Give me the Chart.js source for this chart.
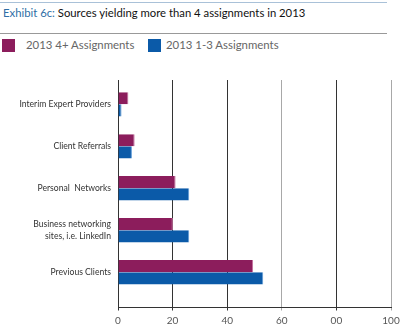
<!DOCTYPE html>
<html>
<head>
<meta charset="utf-8">
<script src="https://cdn.jsdelivr.net/npm/chart.js@4"></script>
<style>
    body { margin: 0; background: #fff; font-family: Lato, sans-serif; }
    #wrap { position: relative; width: 400px; height: 330px; }
    .rule { position: absolute; left: 0; width: 387px; height: 1px; }
    #title { position: absolute; left: 3px; top: 6px; font-size: 11.3px; color: #111; white-space: nowrap; }
    #title span { color: #2e6ea6; }
    .swatch { position: absolute; top: 39px; width: 13px; height: 13px; }
    .legtext { position: absolute; top: 38px; font-size: 11.4px; color: #666; white-space: nowrap; }
    canvas { position: absolute; left: 0; top: 0; }
</style>
</head>
<body>
<div id="wrap">
    <div class="rule" style="top:2px;background:#a9c1d8"></div>
    <div id="title"><span>Exhibit 6c:</span> Sources yielding more than 4 assignments in 2013</div>
    <div class="rule" style="top:33px;background:#999"></div>
    <div class="swatch" style="left:2px;background:#8c1d5c"></div>
    <div class="legtext" style="left:26px">2013 4+ Assignments</div>
    <div class="swatch" style="left:148px;background:#0b5aa8"></div>
    <div class="legtext" style="left:166px">2013 1-3 Assignments</div>
    <canvas id="chart" width="400" height="330"></canvas>
</div>
<script>
// Data (percent)
const categories = [
    'Interim Expert Providers',
    'Client Referrals',
    'Personal  Networks',
    ['Business networking', 'sites, i.e. LinkedIn'],
    'Previous Clients'
];
const series4Plus = [3.8, 6.1, 21.1, 20.1, 49.5];
const series1to3 = [1.3, 5.1, 26.1, 26.1, 53.2];
const xTickLabels = ['0', '20', '40', '60', '00', '100'];

// bars sit on a linear index axis so the uneven bottom gap can be kept
const toPoints = vals => vals.map((v, i) => ({ x: v, y: i }));

const ctx = document.getElementById('chart').getContext('2d');
new Chart(ctx, {
    type: 'bar',
    data: {
        datasets: [{
            label: '2013 4+ Assignments',
            data: toPoints(series4Plus),
            backgroundColor: '#8c1d5c',
            borderColor: '#c46d9c',
            borderWidth: { right: 1 },
            barPercentage: 1,
            categoryPercentage: 0.58
        }, {
            label: '2013 1-3 Assignments',
            data: toPoints(series1to3),
            backgroundColor: '#0b5aa8',
            borderColor: '#5f9ad6',
            borderWidth: { right: 1 },
            barPercentage: 1,
            categoryPercentage: 0.58
        }]
    },
    options: {
        indexAxis: 'y',
        responsive: false,
        animation: false,
        layout: { padding: { top: 80, right: 9, bottom: 0, left: 0 } },
        plugins: { legend: { display: false }, tooltip: { enabled: false } },
        scales: {
            x: {
                type: 'linear',
                min: 0,
                max: 100,
                afterFit: scale => {
                    scale.height = 22.5;
                    scale.paddingLeft = 0;
                    scale.paddingRight = 0;
                },
                ticks: {
                    stepSize: 20,
                    padding: 4,
                    color: '#555',
                    font: { family: 'Lato', size: 10 },
                    callback: value => xTickLabels[value / 20]
                },
                grid: {
                    color: c => (c.tick && (c.tick.value === 60 || c.tick.value === 100)) ? '#a8a8a8' : '#333',
                    lineWidth: 1,
                    tickLength: 3
                },
                border: { color: '#333' }
            },
            y: {
                type: 'linear',
                reverse: true,
                offset: false,
                min: -0.58,
                max: 4.84,
                afterFit: scale => {
                    scale.width = 118;
                    scale.paddingTop = 0;
                    scale.paddingBottom = 0;
                },
                afterBuildTicks: scale => { scale.ticks = categories.map((c, i) => ({ value: i })); },
                ticks: {
                    padding: 7,
                    color: '#333',
                    font: { family: 'Lato', size: 8.6, lineHeight: 1.4 },
                    callback: value => categories[value]
                },
                grid: { display: false, drawTicks: false, offset: false },
                border: { display: false }
            }
        }
    }
});
</script>
</body>
</html>
